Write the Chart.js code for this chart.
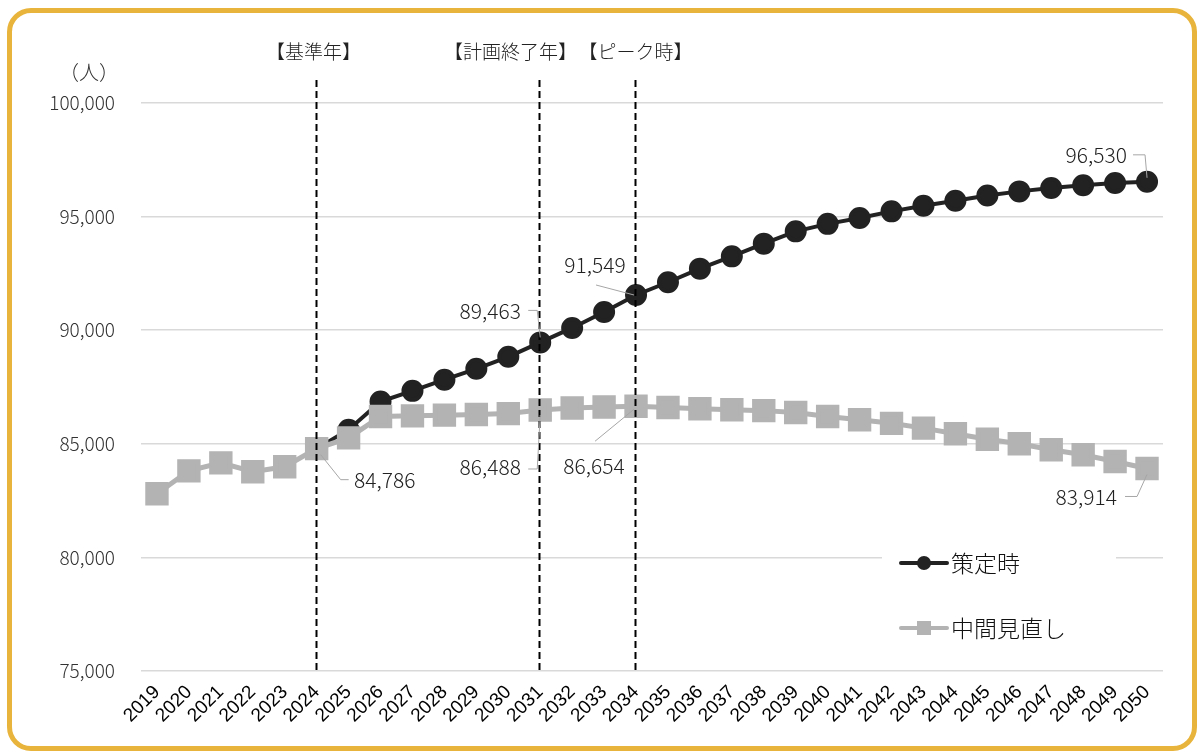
<!DOCTYPE html>
<html>
<head>
<meta charset="utf-8">
<script src="https://cdn.jsdelivr.net/npm/chart.js@4/dist/chart.umd.min.js"></script>
<style>
    body { margin: 0; background: #fff; }
    #wrap { position: relative; width: 1204px; height: 756px; }
    #frame {
        position: absolute; left: 7px; top: 8px; width: 1190px; height: 743px;
        box-sizing: border-box; border: 5px solid #E8B43B; border-radius: 24px;
        pointer-events: none;
    }
    canvas { position: absolute; left: 0; top: 0; }
</style>
</head>
<body>
<div id="wrap">
    <canvas id="popChart" width="1204" height="756"></canvas>
    <div id="frame"></div>
</div>

<script>
    const years = ['2019', '2020', '2021', '2022', '2023', '2024', '2025', '2026', '2027', '2028',
        '2029', '2030', '2031', '2032', '2033', '2034', '2035', '2036', '2037', '2038', '2039',
        '2040', '2041', '2042', '2043', '2044', '2045', '2046', '2047', '2048', '2049', '2050'];

    // 策定時 (starts at base year 2024)
    const planValues = [null, null, null, null, null, 84786, 85620, 86860, 87330, 87820,
        88300, 88830, 89463, 90100, 90800, 91549, 92110, 92710, 93250, 93810, 94350,
        94680, 94940, 95230, 95480, 95700, 95930, 96110, 96260, 96380, 96480, 96530];

    // 中間見直し
    const reviewValues = [82800, 83810, 84160, 83770, 83990, 84786, 85260, 86200, 86230, 86260,
        86290, 86330, 86488, 86573, 86617, 86654, 86600, 86540, 86500, 86460, 86380,
        86200, 86060, 85900, 85690, 85440, 85200, 85000, 84740, 84520, 84220, 83914];

    const yTicks = [75000, 80000, 85000, 90000, 95000, 100000];

    const markerYears = ['2024', '2031', '2034'];
    const markerLabels = ['【基準年】', '【計画終了年】', '【ピーク時】'];

    const seriesNames = ['策定時', '中間見直し'];

    const JP = "'Noto Sans CJK JP', 'Noto Sans', sans-serif";

    const fmt = v => v.toLocaleString('en-US');

    const overlayPlugin = {
        id: 'overlay',
        afterDatasetsDraw(chart) {
            const ctx = chart.ctx;
            const x = chart.scales.x, y = chart.scales.y;
            const area = chart.chartArea;

            // dashed year markers + captions
            const captionShift = [-3, -29, 0];
            ctx.save();
            markerYears.forEach((yr, i) => {
                const px = Math.round(x.getPixelForValue(years.indexOf(yr))) - 0.5;
                ctx.strokeStyle = '#000';
                ctx.lineWidth = 2;
                ctx.setLineDash([7, 4]);
                ctx.beginPath();
                ctx.moveTo(px, 80);
                ctx.lineTo(px, area.bottom);
                ctx.stroke();
                ctx.setLineDash([]);
                ctx.fillStyle = '#222';
                ctx.font = '300 19px ' + JP;
                ctx.textAlign = 'center';
                ctx.textBaseline = 'middle';
                ctx.fillText(markerLabels[i], px + captionShift[i], 52);
            });
            ctx.restore();

            // value labels with leader lines
            const notes = [
                { data: reviewValues, yr: '2024', tx: 354, ty: 480, align: 'left', path: [[4, 6], [24, 31], [32, 31]] },
                { data: planValues, yr: '2031', tx: 521, ty: 311, align: 'right', path: [[0, -5], [-3, -32], [-12, -32]] },
                { data: reviewValues, yr: '2031', tx: 521, ty: 467, align: 'right', path: [[0, 5], [-3, 59], [-12, 59]] },
                { data: planValues, yr: '2034', tx: 595, ty: 265, align: 'center', path: [[-2, 0], [-40, -10]] },
                { data: reviewValues, yr: '2034', tx: 594, ty: 466, align: 'center', path: [[-2, 3], [-41, 35]] },
                { data: planValues, yr: '2050', tx: 1127, ty: 155, align: 'right', path: [[0, -4], [-2, -27], [-14, -27]] },
                { data: reviewValues, yr: '2050', tx: 1117, ty: 497, align: 'right', path: [[0, 6], [-10, 28], [-22, 28]] }
            ];
            ctx.save();
            notes.forEach(n => {
                const idx = years.indexOf(n.yr);
                const v = n.data[idx];
                const px = x.getPixelForValue(idx), py = y.getPixelForValue(v);
                ctx.strokeStyle = '#a6a6a6';
                ctx.lineWidth = 1;
                ctx.beginPath();
                n.path.forEach((p, k) => {
                    if (k === 0) ctx.moveTo(px + p[0], py + p[1]);
                    else ctx.lineTo(px + p[0], py + p[1]);
                });
                ctx.stroke();
                ctx.fillStyle = '#222';
                ctx.font = '300 21px ' + JP;
                ctx.textAlign = n.align;
                ctx.textBaseline = 'middle';
                ctx.fillText(fmt(v), n.tx, n.ty);
            });
            ctx.restore();

            // y-axis unit
            ctx.save();
            ctx.fillStyle = '#333';
            ctx.font = '300 20px ' + JP;
            ctx.textAlign = 'right';
            ctx.textBaseline = 'middle';
            ctx.fillText('（人）', 119, 72);
            ctx.restore();
        },
        afterDraw(chart) {
            // legend box
            const ctx = chart.ctx;
            ctx.save();
            ctx.fillStyle = '#fff';
            ctx.fillRect(882, 536, 234, 118);
            const rows = [
                { y: 563, color: '#222222', shape: 'circle' },
                { y: 628, color: '#b3b3b3', shape: 'rect' }
            ];
            rows.forEach((r, i) => {
                ctx.strokeStyle = r.color;
                ctx.fillStyle = r.color;
                ctx.lineWidth = 4;
                ctx.lineCap = 'round';
                ctx.beginPath();
                ctx.moveTo(901, r.y);
                ctx.lineTo(947, r.y);
                ctx.stroke();
                if (r.shape === 'circle') {
                    ctx.beginPath();
                    ctx.arc(924, r.y, 7, 0, Math.PI * 2);
                    ctx.fill();
                } else {
                    ctx.fillRect(917, r.y - 7, 14, 14);
                }
                ctx.fillStyle = '#111';
                ctx.font = '300 23px ' + JP;
                ctx.textAlign = 'left';
                ctx.textBaseline = 'middle';
                ctx.fillText(seriesNames[i], 951, r.y);
            });
            ctx.restore();
        }
    };

    new Chart(document.getElementById('popChart'), {
        type: 'line',
        data: {
            labels: years,
            datasets: [
                {
                    label: seriesNames[1],
                    data: reviewValues,
                    borderColor: '#b3b3b3',
                    backgroundColor: '#b3b3b3',
                    borderWidth: 5,
                    pointStyle: 'rect',
                    pointRadius: 13,
                    pointHoverRadius: 13,
                    tension: 0
                },
                {
                    label: seriesNames[0],
                    data: planValues,
                    borderColor: '#222222',
                    backgroundColor: '#222222',
                    borderWidth: 4,
                    pointStyle: 'circle',
                    pointRadius: 9,
                    pointHoverRadius: 9,
                    tension: 0
                }
            ]
        },
        options: {
            responsive: false,
            animation: false,
            events: [],
            layout: { padding: { left: 0, right: 41, top: 103, bottom: 0 } },
            plugins: {
                legend: { display: false },
                tooltip: { enabled: false }
            },
            scales: {
                x: {
                    offset: true,
                    grid: { display: false },
                    border: { display: false },
                    ticks: {
                        minRotation: 45,
                        maxRotation: 45,
                        autoSkip: false,
                        color: '#000',
                        padding: 2,
                        font: { family: "'Liberation Sans', Arial, sans-serif", size: 19 }
                    },
                    afterFit(scale) { scale.height = 85; }
                },
                y: {
                    min: 75000,
                    max: 100000,
                    afterBuildTicks(scale) { scale.ticks = yTicks.map(v => ({ value: v })); },
                    grid: { color: '#d9d9d9', lineWidth: 1.5, drawTicks: false },
                    border: { display: false },
                    ticks: {
                        color: '#333',
                        padding: 26,
                        font: { family: JP, size: 19, weight: '300' },
                        callback: v => fmt(v)
                    },
                    afterFit(scale) { scale.width = 141; }
                }
            }
        },
        plugins: [overlayPlugin]
    });
</script>
</body>
</html>
